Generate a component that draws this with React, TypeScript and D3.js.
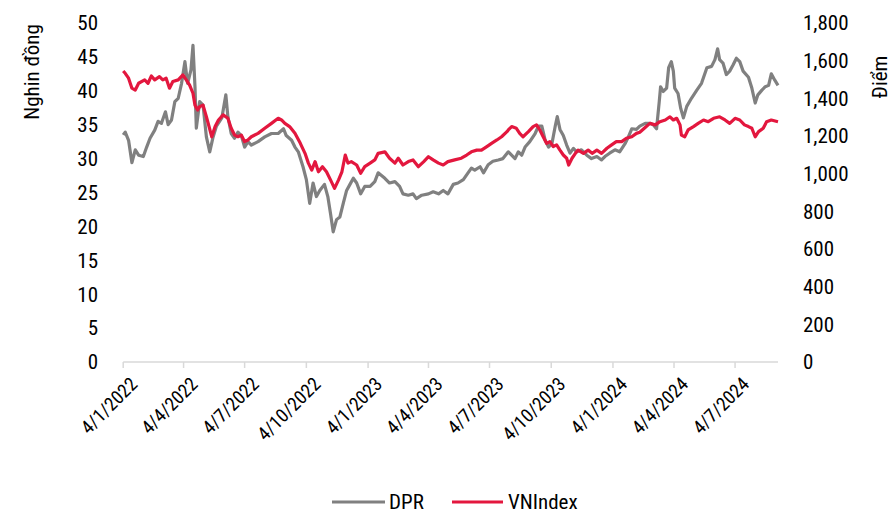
import React from "react";
import * as d3 from "d3";

const dprDates = [
  "2022-01-04","2022-01-07","2022-01-12","2022-01-17","2022-01-22","2022-01-27","2022-02-03","2022-02-08","2022-02-13","2022-02-20",
  "2022-02-25","2022-03-02","2022-03-08","2022-03-12","2022-03-17","2022-03-22","2022-03-27","2022-04-01","2022-04-06","2022-04-10",
  "2022-04-15","2022-04-18","2022-04-21","2022-04-23","2022-04-28","2022-05-03","2022-05-08","2022-05-13","2022-05-18","2022-05-23",
  "2022-05-31","2022-06-06","2022-06-09","2022-06-14","2022-06-19","2022-06-24","2022-06-29","2022-07-04","2022-07-09","2022-07-14",
  "2022-07-24","2022-08-03","2022-08-13","2022-08-23","2022-08-31","2022-09-04","2022-09-12","2022-09-17","2022-09-22","2022-09-29",
  "2022-10-04","2022-10-09","2022-10-14","2022-10-19","2022-10-24","2022-10-31","2022-11-05","2022-11-09","2022-11-13","2022-11-18",
  "2022-11-23","2022-11-28","2022-12-03","2022-12-08","2022-12-13","2022-12-18","2022-12-24","2022-12-30",
  "2023-01-07","2023-01-14","2023-01-19","2023-01-29","2023-02-05","2023-02-13","2023-02-20","2023-02-25","2023-03-05","2023-03-12",
  "2023-03-17","2023-03-25","2023-04-04","2023-04-11","2023-04-19","2023-04-26","2023-05-03","2023-05-11","2023-05-18","2023-05-26",
  "2023-06-02","2023-06-07","2023-06-12","2023-06-20","2023-06-25","2023-07-02","2023-07-09","2023-07-17","2023-07-24","2023-08-01",
  "2023-08-03","2023-08-11","2023-08-16","2023-08-21","2023-08-26","2023-09-02","2023-09-10","2023-09-15","2023-09-20","2023-09-25",
  "2023-09-30","2023-10-05","2023-10-10","2023-10-13","2023-10-17","2023-10-22","2023-10-27","2023-11-01","2023-11-06","2023-11-11",
  "2023-11-18","2023-11-26","2023-12-03","2023-12-11","2023-12-18","2023-12-23","2023-12-30",
  "2024-01-07","2024-01-14","2024-01-22","2024-01-27","2024-02-01","2024-02-08","2024-02-13","2024-02-21","2024-02-28","2024-03-04",
  "2024-03-09","2024-03-13","2024-03-15","2024-03-19","2024-03-24","2024-03-27","2024-03-31","2024-04-03","2024-04-05","2024-04-10",
  "2024-04-14","2024-04-18","2024-04-23","2024-04-30","2024-05-08","2024-05-15","2024-05-23","2024-05-30","2024-06-04","2024-06-08",
  "2024-06-11","2024-06-16","2024-06-21","2024-06-26","2024-07-01","2024-07-06","2024-07-11","2024-07-16","2024-07-24","2024-07-29",
  "2024-08-03","2024-08-07","2024-08-13","2024-08-18","2024-08-23","2024-08-27","2024-09-01","2024-09-06"
];
const dprValues = [
  33.5,33.9,32.7,29.4,31.3,30.5,30.3,31.7,33.0,34.2,
  35.5,35.2,36.9,35.0,35.7,38.4,38.9,41.1,44.3,41.1,
  43.1,46.7,40.6,34.5,38.4,37.9,33.2,31.0,33.2,34.8,
  36.0,39.4,36.2,33.7,33.0,33.9,33.4,31.7,32.5,32.0,
  32.5,33.2,33.7,33.7,34.4,33.4,32.7,31.7,31.0,28.8,
  26.9,23.4,26.4,24.4,25.3,26.2,24.4,21.9,19.2,21.0,
  21.4,23.4,25.3,26.2,27.1,26.4,24.8,25.9,
  25.9,26.6,27.9,27.1,26.4,26.6,25.9,24.8,24.6,24.8,
  24.1,24.6,24.8,25.1,24.8,25.3,24.8,26.2,26.4,26.9,
  27.9,28.6,28.3,28.8,27.9,29.1,29.6,29.8,30.0,31.0,
  30.8,30.0,31.0,30.5,31.7,32.5,33.7,34.8,34.8,32.7,
  31.7,32.2,34.8,36.2,34.3,33.4,32.0,30.8,31.5,31.0,
  31.3,30.5,30.0,30.3,29.8,30.3,30.8,
  31.3,31.0,32.2,33.2,34.4,34.3,34.8,35.2,35.2,35.0,
  34.4,38.4,40.6,39.9,40.4,43.4,44.3,42.9,40.4,39.6,
  37.4,36.0,37.7,38.9,40.1,41.1,43.4,43.6,44.6,46.2,
  44.6,44.1,42.4,42.9,43.8,44.8,44.3,42.9,42.0,40.4,
  38.2,39.4,40.1,40.6,40.8,42.5,41.6,40.8
];

const vniDates = [
  "2022-01-04","2022-01-07","2022-01-12","2022-01-17","2022-01-22","2022-01-27","2022-02-05","2022-02-10","2022-02-15","2022-02-20",
  "2022-02-27","2022-03-04","2022-03-09","2022-03-14","2022-03-19","2022-03-27","2022-04-03","2022-04-08","2022-04-13","2022-04-18",
  "2022-04-21","2022-04-25","2022-04-28","2022-05-03","2022-05-08","2022-05-16","2022-05-21","2022-05-26","2022-06-02","2022-06-09",
  "2022-06-14","2022-06-19","2022-06-24","2022-06-29","2022-07-04","2022-07-09","2022-07-14","2022-07-24","2022-08-03","2022-08-13",
  "2022-08-23","2022-08-28","2022-09-02","2022-09-09","2022-09-17","2022-09-25","2022-10-02","2022-10-07","2022-10-12","2022-10-17",
  "2022-10-22","2022-10-28","2022-11-03","2022-11-09","2022-11-15","2022-11-21","2022-11-26","2022-12-01","2022-12-05","2022-12-10",
  "2022-12-18","2022-12-24","2022-12-30",
  "2023-01-07","2023-01-14","2023-01-19","2023-01-29","2023-02-05","2023-02-13","2023-02-18","2023-02-25","2023-03-05","2023-03-12",
  "2023-03-20","2023-03-28","2023-04-04","2023-04-11","2023-04-19","2023-04-26","2023-05-03","2023-05-13","2023-05-23","2023-05-31",
  "2023-06-07","2023-06-15","2023-06-22","2023-06-30","2023-07-07","2023-07-15","2023-07-22","2023-07-30","2023-08-01","2023-08-06",
  "2023-08-13","2023-08-18","2023-08-23","2023-08-31","2023-09-07","2023-09-12","2023-09-17","2023-09-22","2023-09-27","2023-10-02",
  "2023-10-07","2023-10-12","2023-10-17","2023-10-22","2023-10-27","2023-10-30","2023-11-04","2023-11-09","2023-11-13","2023-11-21",
  "2023-11-28","2023-12-04","2023-12-11","2023-12-18","2023-12-26",
  "2024-01-02","2024-01-09","2024-01-17","2024-01-24","2024-02-01","2024-02-08","2024-02-13","2024-02-21","2024-02-28","2024-03-07",
  "2024-03-14","2024-03-22","2024-03-29","2024-04-03","2024-04-08","2024-04-13","2024-04-15","2024-04-20","2024-04-25","2024-05-03",
  "2024-05-10","2024-05-18","2024-05-25","2024-06-02","2024-06-11","2024-06-19","2024-06-26","2024-07-04","2024-07-11","2024-07-18",
  "2024-07-24","2024-07-29","2024-08-03","2024-08-08","2024-08-15","2024-08-20","2024-08-27","2024-09-06"
];
const vniValues = [
  1545,1533,1507,1454,1444,1480,1498,1480,1519,1498,
  1515,1498,1507,1454,1489,1498,1524,1498,1470,1427,
  1364,1338,1356,1364,1303,1196,1250,1285,1312,1294,
  1241,1205,1196,1205,1170,1179,1196,1214,1241,1267,
  1294,1285,1267,1250,1214,1161,1108,1056,1019,1064,
  1010,1037,1010,967,922,967,1010,1099,1056,1064,
  1046,1002,1037,
  1056,1073,1108,1116,1082,1056,1082,1046,1064,1073,
  1037,1064,1090,1073,1056,1046,1064,1073,1082,1099,
  1116,1125,1125,1144,1161,1179,1196,1223,1232,1250,
  1241,1214,1196,1223,1250,1259,1232,1196,1161,1170,
  1144,1153,1125,1099,1082,1046,1082,1108,1125,1108,
  1125,1108,1125,1108,1135,
  1153,1170,1170,1188,1196,1214,1220,1245,1267,1259,
  1276,1285,1302,1285,1294,1259,1205,1196,1232,1250,
  1267,1285,1276,1294,1302,1285,1267,1294,1285,1259,
  1250,1241,1196,1223,1241,1276,1285,1276
];

const tickDates = [
  "2022-01-04","2022-04-04","2022-07-04","2022-10-04","2023-01-04","2023-04-04",
  "2023-07-04","2023-10-04","2024-01-04","2024-04-04","2024-07-04"
];
const leftTicks = [0, 5, 10, 15, 20, 25, 30, 35, 40, 45, 50];
const rightTicks = [0, 200, 400, 600, 800, 1000, 1200, 1400, 1600, 1800];

const seriesNames = ["DPR", "VNIndex"];
const seriesColors = ["#808080", "#E3173E"];

const parse = d3.timeParse("%Y-%m-%d");
const FONT = "'Liberation Sans Narrow','Arial Narrow','Roboto Condensed','DejaVu Sans Condensed',sans-serif";

export default function App() {
  const W = 894, H = 513;
  const x0 = 123.2, x1 = 778, yBottom = 362, yTop = 23;
  const x = d3.scaleTime()
    .domain([parse("2022-01-04")!, parse("2024-09-06")!])
    .range([x0, x1]);
  const yL = d3.scaleLinear().domain([0, 50]).range([yBottom, yTop]);
  const yR = d3.scaleLinear().domain([0, 1800]).range([yBottom, yTop]);

  const dpr = dprDates.map((d, i) => ({ d: parse(d)!, v: dprValues[i] }));
  const vni = vniDates.map((d, i) => ({ d: parse(d)!, v: vniValues[i] }));

  const lineL = d3.line<{ d: Date; v: number }>().x(p => x(p.d)).y(p => yL(p.v));
  const lineR = d3.line<{ d: Date; v: number }>().x(p => x(p.d)).y(p => yR(p.v));

  const fmt = (dt: Date) => `${dt.getDate()}/${dt.getMonth() + 1}/${dt.getFullYear()}`;
  const fmtR = d3.format(",");

  return (
    <svg width={W} height={H} style={{ position: "absolute", left: 0, top: 0, background: "#fff" }}
      fontFamily={FONT} fontStretch="condensed">
      {/* x axis */}
      <line x1={x0} x2={x1} y1={yBottom} y2={yBottom} stroke="#d9d9d9" strokeWidth={1.5} />
      {tickDates.map(t => {
        const dt = parse(t)!;
        const px = x(dt);
        return (
          <g key={t}>
            <line x1={px} x2={px} y1={yBottom} y2={yBottom + 6} stroke="#d9d9d9" strokeWidth={1.5} />
            <text transform={`translate(${px + 6},${yBottom + 14}) rotate(-45)`} textAnchor="end"
              dy="0.7em" fontSize={19} fill="#000">{fmt(dt)}</text>
          </g>
        );
      })}
      {/* left axis labels */}
      {leftTicks.map(t => (
        <text key={"l" + t} x={98} y={yL(t)} dy="0.35em" textAnchor="end" fontSize={21} fill="#000">{t}</text>
      ))}
      {rightTicks.map(t => (
        <text key={"r" + t} x={803} y={yR(t)} dy="0.35em" textAnchor="start" fontSize={21} fill="#000">{fmtR(t)}</text>
      ))}
      <text transform={`translate(32,72) rotate(-90)`} textAnchor="middle" dy="0.35em" fontSize={21} fill="#000">Nghin đồng</text>
      <text transform={`translate(880,77) rotate(-90)`} textAnchor="middle" dy="0.35em" fontSize={21} fill="#000">Điểm</text>

      <path d={lineL(dpr)!} fill="none" stroke={seriesColors[0]} strokeWidth={3.2} strokeLinejoin="round" />
      <path d={lineR(vni)!} fill="none" stroke={seriesColors[1]} strokeWidth={3.2} strokeLinejoin="round" />

      {/* legend */}
      <line x1={332} x2={385} y1={502} y2={502} stroke={seriesColors[0]} strokeWidth={3} />
      <text x={389} y={502} dy="0.35em" fontSize={21} fill="#000">{seriesNames[0]}</text>
      <line x1={452} x2={503} y1={502} y2={502} stroke={seriesColors[1]} strokeWidth={3} />
      <text x={508} y={502} dy="0.35em" fontSize={21} fill="#000">{seriesNames[1]}</text>
    </svg>
  );
}
